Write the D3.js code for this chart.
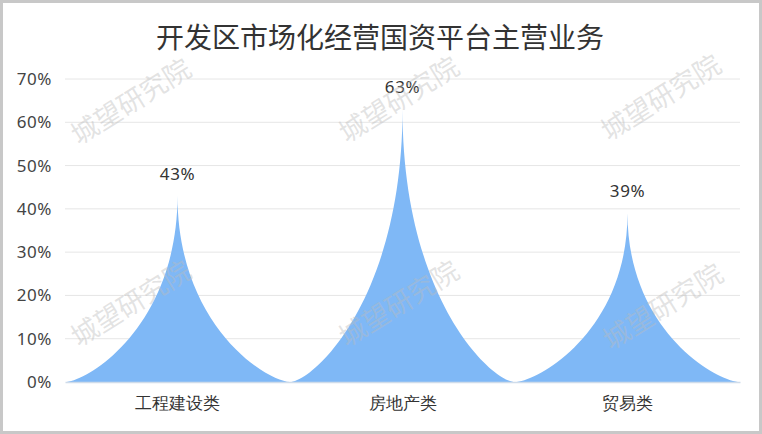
<!DOCTYPE html>
<html><head><meta charset="utf-8">
<script src="https://cdn.jsdelivr.net/npm/d3@7/dist/d3.min.js"></script>
<style>
html,body{margin:0;padding:0;background:#fff;}
svg{display:block;font-family:"Microsoft YaHei","Noto Sans CJK SC","Noto Sans",sans-serif;}
</style></head>
<body>
<svg id="c" width="762" height="434"></svg>
<script>
const title = "开发区市场化经营国资平台主营业务";
const categories = ["工程建设类", "房地产类", "贸易类"];
const values = [43, 63, 39];
const yTicks = [0, 10, 20, 30, 40, 50, 60, 70];
const watermark = "城望研究院";

const W = 762, H = 434;
const svg = d3.select("#c");
const margin = {left: 65, right: 22, top: 79, bottom: 52};
const numFont = "'Noto Sans','Open Sans',sans-serif";

// border
svg.append("rect").attr("x", 1.5).attr("y", 1.5).attr("width", W - 3).attr("height", H - 3)
  .attr("fill", "#fff").attr("stroke", "#c8c8c8").attr("stroke-width", 3);

const x = d3.scaleBand().domain(categories).range([margin.left, W - margin.right]).padding(0);
const y = d3.scaleLinear().domain([0, 70]).range([H - margin.bottom, margin.top]);

// title
svg.append("text").attr("x", W / 2 - 1).attr("y", 48).attr("text-anchor", "middle")
  .attr("font-size", 28).attr("fill", "#333").text(title);

// grid
svg.append("g").selectAll("line").data(yTicks.filter(d => d > 0)).join("line")
  .attr("x1", margin.left).attr("x2", W - margin.right)
  .attr("y1", d => y(d)).attr("y2", d => y(d))
  .attr("stroke", "#e6e6e6").attr("stroke-width", 1);

// y labels
const yAxis = d3.axisLeft(y).tickValues(yTicks).tickFormat(d => d + "%").tickSize(0).tickPadding(13);
const gy = svg.append("g").attr("transform", `translate(${margin.left},0)`).call(yAxis);
gy.select(".domain").remove();
gy.selectAll("text").attr("font-size", 17).attr("fill", "#444").attr("font-family", numFont)
  .attr("letter-spacing", 0.6);

// spikes
function spike(cat, v) {
  const x0 = x(cat), w = x.bandwidth();
  const yb = y(0), yt = y(v), h = yb - yt;
  return `M${x0},${yb} L${x0 + w},${yb} C${x0 + 0.9 * w},${yb} ${x0 + 0.5 * w},${yb - h * 0.3} ${x0 + 0.5 * w},${yt} ` +
         `C${x0 + 0.5 * w},${yb - h * 0.3} ${x0 + 0.1 * w},${yb} ${x0},${yb} Z`;
}
svg.append("g").selectAll("path").data(categories).join("path")
  .attr("d", (c, i) => spike(c, values[i]))
  .attr("fill", "#7fb8f6");

// x axis
const xAxis = d3.axisBottom(x).tickSize(0).tickPadding(15);
const gx = svg.append("g").attr("transform", `translate(0,${y(0)})`).call(xAxis);
gx.select(".domain").attr("stroke", "#cfdcea").attr("stroke-width", 1.5);
gx.selectAll("text").attr("font-size", 17).attr("fill", "#333").attr("font-family", "inherit");

// value labels
svg.append("g").selectAll("text").data(categories).join("text")
  .attr("x", c => x(c) + x.bandwidth() / 2)
  .attr("y", (c, i) => y(values[i]) - 16)
  .attr("text-anchor", "middle").attr("font-size", 17).attr("fill", "#333")
  .attr("font-family", numFont).attr("letter-spacing", 0.6)
  .text((c, i) => values[i] + "%");

// watermarks
const wmPos = [[130, 100], [398, 98], [660, 96], [130, 302], [398, 302], [662, 305]];
svg.append("g").selectAll("text").data(wmPos).join("text")
  .attr("transform", d => `translate(${d[0]},${d[1]}) rotate(-32)`)
  .attr("text-anchor", "middle").attr("dominant-baseline", "central")
  .attr("font-size", 27).attr("fill", "#bbb").attr("fill-opacity", 0.42)
  .text(watermark);
</script>
</body></html>
